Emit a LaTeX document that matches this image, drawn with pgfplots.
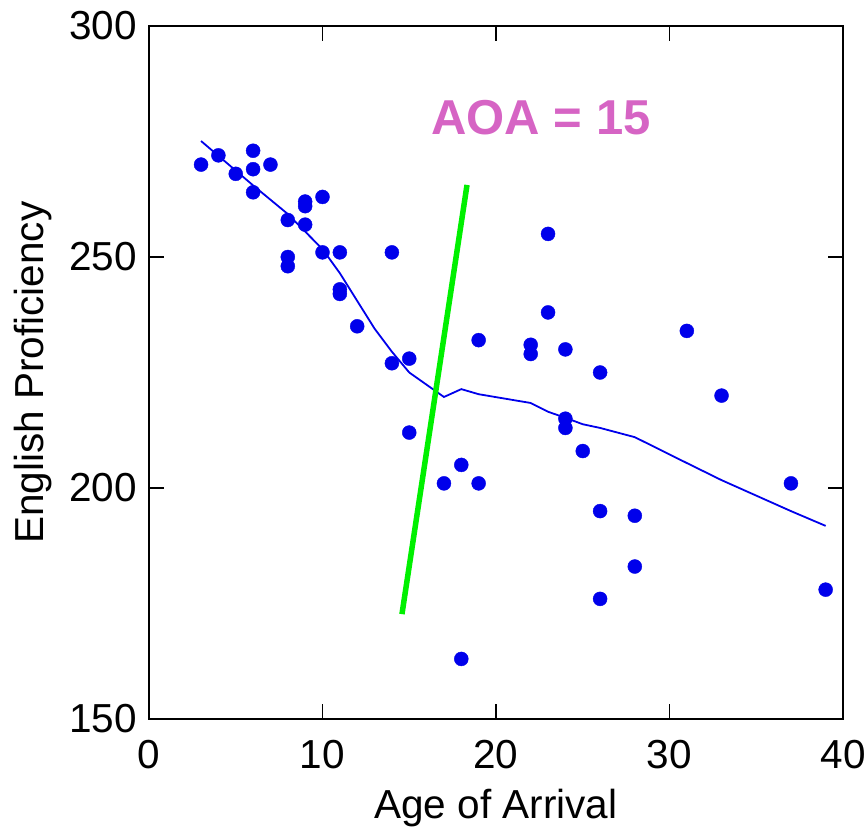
\documentclass[border=0pt]{standalone}
\usepackage{fontspec}
\setmainfont{Liberation Sans}
\usepackage{pgfplots}
\pgfplotsset{compat=1.18}
\definecolor{dotblue}{RGB}{0,0,235}
\definecolor{aoapink}{RGB}{214,100,196}
\definecolor{lime}{RGB}{0,240,0}

\pgfplotstableread{
x y
3 270
4 272
5 268
6 273
6 269
6 264
7 270
8 258
8 250
8 248
9 262
9 261
9 257
10 263
10 251
11 251
11 243
11 242
12 235
14 251
14 227
15 228
15 212
17 201
18 205
18 163
19 232
19 201
22 231
22 229
23 255
23 238
24 230
24 215
24 213
25 208
26 225
26 195
26 176
28 194
28 183
31 234
33 220
37 201
39 178
}\aoadata

\pgfplotstableread{
x y
3 275.1
6 265.5
8 259.3
10 251.7
11 246.5
12 240.5
13 234.5
14 229.5
15 225.0
17 219.7
18 221.4
19 220.3
22 218.4
23 216.5
24 215.2
25 213.8
26 213.0
28 211.0
31 205.4
33 201.7
37 195.0
39 191.8
}\smoothfit

\begin{document}
\begin{tikzpicture}
\begin{axis}[
    name=ax,
    scale only axis,
    width=694pt, height=693pt,
    xmin=0, xmax=40, ymin=150, ymax=300,
    xtick={0,10,20,30,40},
    ytick={150,200,250,300},
    tick align=inside,
    major tick length=15pt,
    axis line style={line width=2pt},
    every tick/.style={black, line width=1.5pt},
    tick label style={font=\fontsize{40.5}{48}\selectfont, inner sep=0pt},
    /pgf/number format/assume math mode=true,
    yticklabel style={anchor=east, xshift=-12pt},
    xticklabel style={anchor=north, yshift=-21pt},
    xlabel={Age of Arrival},
    ylabel={English Proficiency},
    label style={font=\fontsize{40.5}{48}\selectfont, inner sep=0pt},
    xlabel style={at={(axis description cs:0.5,0)}, anchor=base, yshift=-99pt},
    ylabel style={at={(axis description cs:-0.1675,0.5)}, anchor=center},
    clip=false,
]
\addplot[only marks, mark=*, mark size=7pt, color=dotblue] table {\aoadata};
\addplot[color=dotblue, line width=1.8pt] table {\smoothfit};
\addplot[color=lime, line width=5.5pt] coordinates {(14.58,172.7) (18.33,265.6)};
\node[font=\bfseries\fontsize{49}{56}\selectfont, text=aoapink, inner sep=0pt] at (axis cs:22.6,280.2) {AOA = 15};
\end{axis}
\pgfresetboundingbox
\useasboundingbox ([shift={(-149pt,-112pt)}]ax.south west) rectangle ([shift={(25pt,26pt)}]ax.north east);
\end{tikzpicture}
\end{document}
